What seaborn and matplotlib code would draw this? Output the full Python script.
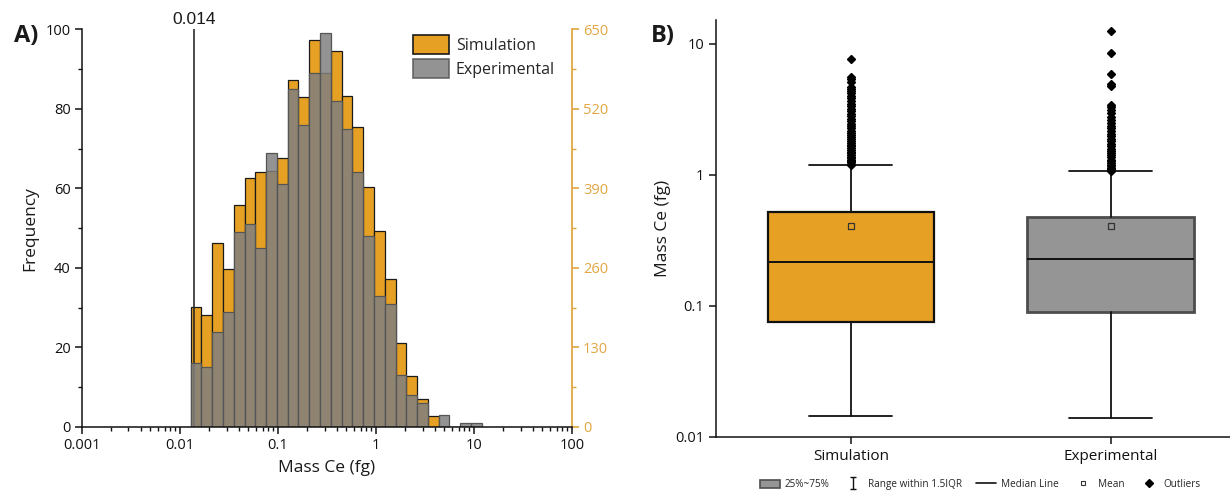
import numpy as np
import pandas as pd
import matplotlib
matplotlib.use("Agg")
import matplotlib.pyplot as plt
import seaborn as sns
from matplotlib.patches import Patch
from matplotlib.lines import Line2D
from matplotlib.path import Path
from matplotlib.ticker import FixedLocator, NullLocator

# ---------------- data ----------------
# histogram (log-spaced bins, in decades)
bin_log_start = -1.889
bin_log_width = 0.11
sim_counts = [196, 183, 301, 258, 363, 407, 417, 419, 439, 567, 539, 633, 578,
              615, 541, 491, 393, 320, 242, 137, 83, 46, 18, 0, 0, 0, 0]
exp_counts = [16, 15, 24, 29, 49, 51, 45, 69, 61, 85, 76, 89, 99,
              82, 75, 64, 48, 33, 31, 13, 8, 6, 0, 3, 0, 1, 1]
threshold = 0.014
threshold_label = "0.014"
series_names = ["Simulation", "Experimental"]

# box plot summary statistics (fg)
box_groups = ["Simulation", "Experimental"]
box_q1 = [0.0759, 0.0895]
box_median = [0.216, 0.2275]
box_q3 = [0.519, 0.481]
box_whislo = [0.01446, 0.0140]
box_whishi = [1.19, 1.067]
box_mean = [0.41, 0.41]
sim_outliers = [1.20, 1.22, 1.25, 1.28, 1.31, 1.35, 1.38, 1.42, 1.46, 1.50, 1.55,
                1.60, 1.65, 1.70, 1.76, 1.82, 1.88, 1.95, 2.02, 2.10, 2.18, 2.27,
                2.36, 2.46, 2.57, 2.68, 2.80, 2.93, 3.06, 3.20, 3.35, 3.50, 3.66,
                3.83, 4.00, 4.18, 4.36, 4.55, 4.70, 5.15, 5.35, 5.60, 7.64]
exp_outliers = [1.08, 1.10, 1.13, 1.16, 1.19, 1.23, 1.27, 1.31, 1.36, 1.41, 1.46,
                1.52, 1.58, 1.65, 1.72, 1.80, 1.88, 1.97, 2.06, 2.16, 2.27, 2.38,
                2.50, 2.63, 2.78, 2.95, 3.12, 3.30, 3.42, 4.80, 4.95, 5.87, 8.50, 12.6]

hist_xticks = [0.001, 0.01, 0.1, 1, 10, 100]
hist_xticklabels = ["0.001", "0.01", "0.1", "1", "10", "100"]
freq_ticks = [0, 20, 40, 60, 80, 100]
sim_ticks = [0, 130, 260, 390, 520, 650]
box_yticks = [0.01, 0.1, 1, 10]
box_yticklabels = ["0.01", "0.1", "1", "10"]

# ---------------- style ----------------
sns.set_theme(style="ticks")
plt.rcParams["font.family"] = ["Open Sans", "DejaVu Sans"]
ORANGE = "#E6A024"
AXIS_ORANGE = "#E2A642"
GREY = "#808080"
BOX_GREY = "#959595"

fig = plt.figure(figsize=(12.3, 4.93), dpi=100)
ax = fig.add_axes([0.0664, 0.1339, 0.465 - 0.0664, 0.9406 - 0.1339])
ax2 = ax.twinx()

n_bins = len(sim_counts)
edges_log = bin_log_start + bin_log_width * np.arange(n_bins + 1)
centers = 10 ** ((edges_log[:-1] + edges_log[1:]) / 2)
hist_df = pd.DataFrame({"mass": centers, "sim": sim_counts, "exp": exp_counts})
binrange = (edges_log[0], edges_log[-1])

ax.set_xscale("log")
ax2.set_xscale("log")

sns.histplot(data=hist_df, x="mass", weights="sim", bins=n_bins, binrange=binrange,
             log_scale=True, ax=ax2, color=ORANGE, alpha=1.0, edgecolor="#1a1a1a",
             linewidth=0.9, stat="count")
sns.histplot(data=hist_df, x="mass", weights="exp", bins=n_bins, binrange=binrange,
             log_scale=True, ax=ax, color=GREY, alpha=0.85, edgecolor="#555555",
             linewidth=0.9, stat="count")

ax.set_zorder(ax2.get_zorder() + 1)
ax.patch.set_visible(False)

ax.axvline(threshold, color="#2b2b2b", lw=1.2, zorder=0)
ax.text(threshold, 100.6, threshold_label, ha="center", va="bottom", fontsize=12.5,
        family=["Liberation Sans", "DejaVu Sans"], color="#1a1a1a")

ax.set_xlim(0.001, 100)
ax.set_ylim(0, 100)
ax2.set_ylim(0, 650)
ax.set_xticks(hist_xticks)
ax.set_xticklabels(hist_xticklabels)
ax.xaxis.set_minor_locator(matplotlib.ticker.LogLocator(base=10, subs=np.arange(2, 10)))
ax.xaxis.set_minor_formatter(matplotlib.ticker.NullFormatter())
ax.set_yticks(freq_ticks)
ax.yaxis.set_minor_locator(FixedLocator([10, 30, 50, 70, 90]))
ax2.set_yticks(sim_ticks)
ax2.yaxis.set_minor_locator(FixedLocator([65, 195, 325, 455, 585]))

for a in (ax, ax2):
    a.spines["top"].set_visible(False)
ax.spines["right"].set_visible(False)
ax2.spines["left"].set_visible(False)
ax2.spines["bottom"].set_visible(False)
ax2.spines["right"].set_color(AXIS_ORANGE)
ax2.spines["right"].set_linewidth(1.3)
ax.spines["left"].set_linewidth(1.1)
ax.spines["bottom"].set_linewidth(1.1)
ax.spines["left"].set_color("#111111")
ax.spines["bottom"].set_color("#111111")
ax.tick_params(axis="both", which="major", direction="out", length=5, width=1.1,
               labelsize=10.5, colors="#111111", pad=3)
ax.tick_params(axis="both", which="minor", direction="out", length=3, width=1.0,
               colors="#111111")
ax2.tick_params(axis="y", which="major", direction="out", length=5, width=1.2,
                labelsize=10.5, colors=AXIS_ORANGE, pad=3)
ax2.tick_params(axis="y", which="minor", direction="out", length=3, width=1.0,
                colors=AXIS_ORANGE)
ax.set_xlabel("Mass Ce (fg)", fontsize=12.5, labelpad=5, color="#1a1a1a")
ax.set_ylabel("Frequency", fontsize=12.5, labelpad=5, color="#1a1a1a")
ax2.set_ylabel("")
ax.grid(False)
ax2.grid(False)

leg = ax.legend(handles=[Patch(facecolor=ORANGE, edgecolor="#1a1a1a", lw=1.2),
                         Patch(facecolor=GREY, alpha=0.85, edgecolor="#555555", lw=1.2)],
                labels=series_names, loc="upper right", bbox_to_anchor=(0.985, 1.01),
                frameon=False, fontsize=11.5, handlelength=2.3, handleheight=1.45,
                handletextpad=0.4, labelspacing=0.35, borderaxespad=0.2)

fig.text(0.011, 0.915, "A)", fontsize=17, fontweight="bold", color="#1a1a1a")

# ---------------- box plot ----------------
bx = fig.add_axes([0.582, 0.1136, 1.0 - 0.582, 0.9594 - 0.1136])
outliers = [sim_outliers, exp_outliers]
stats = []
for i, g in enumerate(box_groups):
    stats.append(dict(label=g, q1=box_q1[i], med=box_median[i], q3=box_q3[i],
                      whislo=box_whislo[i], whishi=box_whishi[i],
                      mean=box_mean[i], fliers=outliers[i]))
positions = np.arange(len(box_groups))
bp = bx.bxp(stats, positions=positions, widths=0.64, capwidths=0.32,
            patch_artist=True, showmeans=True, showfliers=True,
            medianprops=dict(color="#111111", lw=1.4),
            whiskerprops=dict(color="#111111", lw=1.3),
            capprops=dict(color="#111111", lw=1.3),
            meanprops=dict(marker="s", markersize=4, markerfacecolor="none",
                           markeredgecolor="#333333", markeredgewidth=0.9),
            flierprops=dict(marker="D", markersize=4.0, markerfacecolor="#000000",
                            markeredgecolor="#000000", linestyle="none"))
box_faces = [ORANGE, BOX_GREY]
box_edges = ["#111111", "#4d4d4d"]
box_lw = [1.6, 2.0]
for patch, fc, ec, lw in zip(bp["boxes"], box_faces, box_edges, box_lw):
    patch.set_facecolor(fc)
    patch.set_edgecolor(ec)
    patch.set_linewidth(lw)

bx.set_yscale("log")
bx.set_ylim(0.01, 15.2)
bx.set_xlim(-0.52, 1.46)
bx.yaxis.set_major_locator(FixedLocator(box_yticks))
bx.set_yticklabels(box_yticklabels)
bx.yaxis.set_minor_locator(NullLocator())
bx.set_xticks(positions)
bx.set_xticklabels(box_groups)
bx.spines["top"].set_visible(False)
bx.spines["right"].set_visible(False)
for s in ("left", "bottom"):
    bx.spines[s].set_linewidth(1.1)
    bx.spines[s].set_color("#111111")
bx.tick_params(axis="both", direction="out", length=5, width=1.1, labelsize=10.5,
               colors="#111111")
bx.tick_params(axis="x", labelsize=11, pad=4)
bx.set_ylabel("Mass Ce (fg)", fontsize=12.5, labelpad=3, color="#1a1a1a")
bx.grid(False)

fig.text(0.529, 0.915, "B)", fontsize=17, fontweight="bold", color="#1a1a1a")

# bottom legend of box plot
range_marker = Path([(-0.5, -1), (0.5, -1), (0, -1), (0, 1), (-0.5, 1), (0.5, 1)],
                    [Path.MOVETO, Path.LINETO, Path.MOVETO, Path.LINETO,
                     Path.MOVETO, Path.LINETO])
leg_handles = [
    Patch(facecolor=BOX_GREY, edgecolor="#4d4d4d", lw=1.2),
    Line2D([], [], linestyle="none", marker=range_marker, markersize=9,
           markeredgecolor="#111111", markeredgewidth=1.0, markerfacecolor="none"),
    Line2D([], [], color="#111111", lw=1.2),
    Line2D([], [], linestyle="none", marker="s", markersize=3.5,
           markerfacecolor="none", markeredgecolor="#333333", markeredgewidth=0.8),
    Line2D([], [], linestyle="none", marker="D", markersize=3.8,
           markerfacecolor="#000000", markeredgecolor="#000000"),
]
leg_labels = ["25%~75%", "Range within 1.5IQR", "Median Line", "Mean", "Outliers"]
fig.legend(leg_handles, leg_labels, loc="center", bbox_to_anchor=(0.797, 0.017),
           ncol=5, frameon=False, fontsize=7.2, handlelength=2.0, handleheight=0.9,
           columnspacing=1.4, handletextpad=0.5)

fig.savefig("out.png", dpi=100)
